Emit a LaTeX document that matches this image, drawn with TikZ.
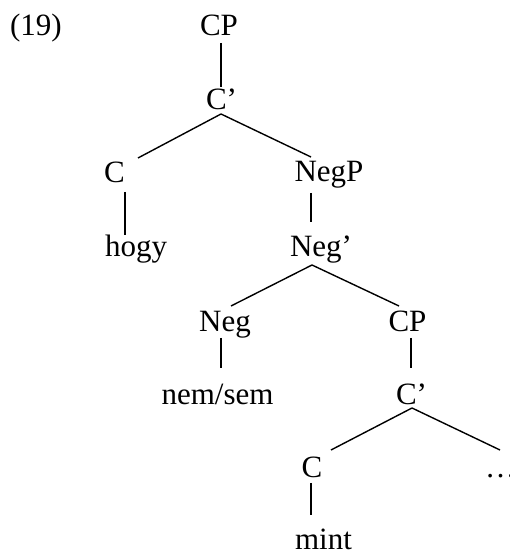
\documentclass[tikz,border=0pt]{standalone}
\usepackage{fontspec}
\setmainfont{Liberation Serif}
\usepackage{tikz}

\begin{document}
\begin{tikzpicture}[x=1pt,y=1pt,
  every node/.style={inner sep=0pt,outer sep=0pt,anchor=base,font=\fontsize{31}{36}\selectfont},
  branch/.style={line width=1.4pt}]
\useasboundingbox (0,0) rectangle (510,554);
\path (10,518)    node[anchor=base west] (ex) {(19)};
\path (219,518)   node (CPa)    {CP};
\path (221.5,444) node (Cbara)  {C’};
\path (114.5,371) node (Ca)     {C};
\path (329,372)   node (NegP)   {NegP};
\path (136,297)   node (hogy)   {hogy};
\path (321,297)   node (Negbar) {Neg’};
\path (225,222)   node (Neg)    {Neg};
\path (407.5,222) node (CPb)    {CP};
\path (217.5,149) node (nemsem) {nem/sem};
\path (411.5,149) node (Cbarb)  {C’};
\path (312,76)    node (Cb)     {C};
\path (485,76)    node[anchor=base west] (dots) {…};
\path (323.5,5)   node (mint)   {mint};
\draw [branch] ([shift={(2,-7)}]CPa.base) -- ([shift={(-0.5,23)}]Cbara.base);
\draw [branch] ([shift={(-0.5,-4)}]Cbara.base) -- ([shift={(23.5,25)}]Ca.base);
\draw [branch] ([shift={(-0.5,-4)}]Cbara.base) -- ([shift={(-18,25)}]NegP.base);
\draw [branch] ([shift={(10.5,-9)}]Ca.base) -- ([shift={(-11,22)}]hogy.base);
\draw [branch] ([shift={(-18,-11)}]NegP.base) -- ([shift={(-10,35)}]Negbar.base);
\draw [branch] ([shift={(-9,-8)}]Negbar.base) -- ([shift={(6,26)}]Neg.base);
\draw [branch] ([shift={(-9,-8)}]Negbar.base) -- ([shift={(-8.5,26)}]CPb.base);
\draw [branch] ([shift={(-4,-6)}]Neg.base) -- ([shift={(3.5,37)}]nemsem.base);
\draw [branch] ([shift={(3.5,-6)}]CPb.base) -- ([shift={(-0.5,37)}]Cbarb.base);
\draw [branch] ([shift={(0.5,-3)}]Cbarb.base) -- ([shift={(19,28)}]Cb.base);
\draw [branch] ([shift={(0.5,-3)}]Cbarb.base) -- ([shift={(15,28)}]dots.base west);
\draw [branch] ([shift={(-1,-5)}]Cb.base) -- ([shift={(-12.5,34)}]mint.base);
\end{tikzpicture}
\end{document}
